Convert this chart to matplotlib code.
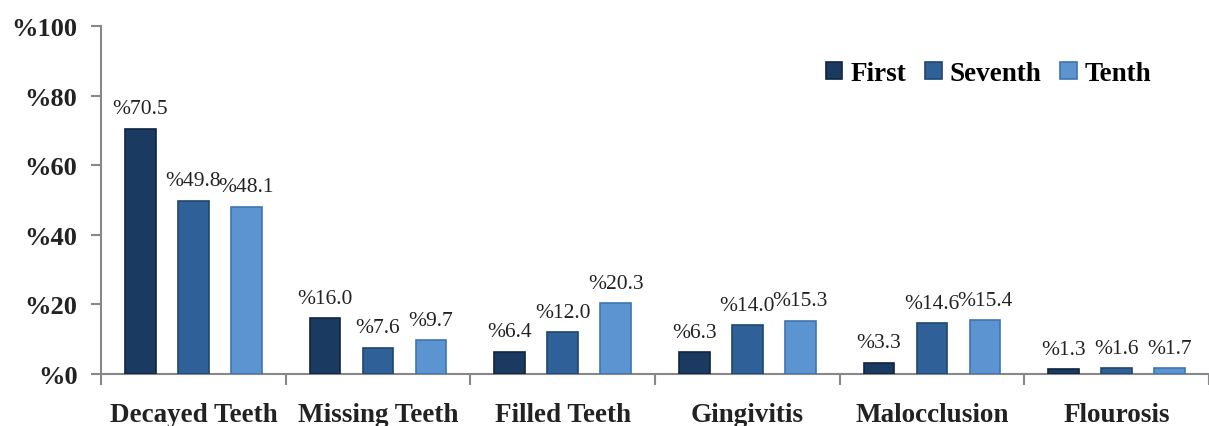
import numpy as np
import matplotlib.pyplot as plt

categories = ["Decayed Teeth", "Missing Teeth", "Filled Teeth", "Gingivitis", "Malocclusion", "Flourosis"]
series = ["First", "Seventh", "Tenth"]
first = [70.5, 16.0, 6.4, 6.3, 3.3, 1.3]
seventh = [49.8, 7.6, 12.0, 14.0, 14.6, 1.6]
tenth = [48.1, 9.7, 20.3, 15.3, 15.4, 1.7]
y_ticks = [0, 20, 40, 60, 80, 100]

colors = ["#1a3a62", "#2f6098", "#5c94d2"]
edges = ["#0f2440", "#1f4670", "#3f74b0"]

def main():
    fig = plt.figure(figsize=(12.09, 4.27), dpi=100)
    ax = fig.add_axes([101 / 1209, 52 / 427, 1108 / 1209, 348 / 427])

    centers = np.arange(len(categories)) + 0.5
    width = 0.167
    step = 0.287
    for i, (name, vals) in enumerate(zip(series, [first, seventh, tenth])):
        xs = centers + (i - 1) * step
        ax.bar(xs, vals, width, color=colors[i], edgecolor=edges[i], linewidth=1.2, label=name, zorder=3)
        for x, v in zip(xs, vals):
            ax.text(x, v + 3, f"%{v:.1f}", ha="center", va="bottom",
                    family="Liberation Serif", fontsize=15.5, color="#222222")

    ax.set_ylim(0, 100)
    ax.set_xlim(0, 1108 / 185.8)
    ax.set_yticks(y_ticks)
    ax.set_yticklabels([f"%{t}" for t in y_ticks], family="Liberation Serif",
                       fontweight="bold", fontsize=19, color="#222222")
    ax.set_xticks(np.arange(len(categories) + 1))
    ax.set_xticklabels([])
    ax.set_xticks(centers, minor=True)
    ax.set_xticklabels(categories, minor=True, family="Liberation Serif",
                       fontweight="bold", fontsize=19.5, color="#222222")
    ax.tick_params(axis="x", which="minor", length=0, pad=20)
    ax.tick_params(axis="x", which="major", length=8, color="#888888", width=1.5)
    ax.tick_params(axis="y", length=7, color="#888888", width=1.5, pad=10)
    for s in ["top", "right"]:
        ax.spines[s].set_visible(False)
    for s in ["left", "bottom"]:
        ax.spines[s].set_color("#888888")
        ax.spines[s].set_linewidth(1.5)

    ax.legend(loc="upper right", bbox_to_anchor=(0.97, 0.97), ncol=3, frameon=False,
              prop={"family": "Liberation Serif", "weight": "bold", "size": 19.5},
              handlelength=0.6, handleheight=0.6, handletextpad=0.3, columnspacing=0.7)

    fig.savefig("out.png", dpi=100)

if __name__ == "__main__":
    main()
